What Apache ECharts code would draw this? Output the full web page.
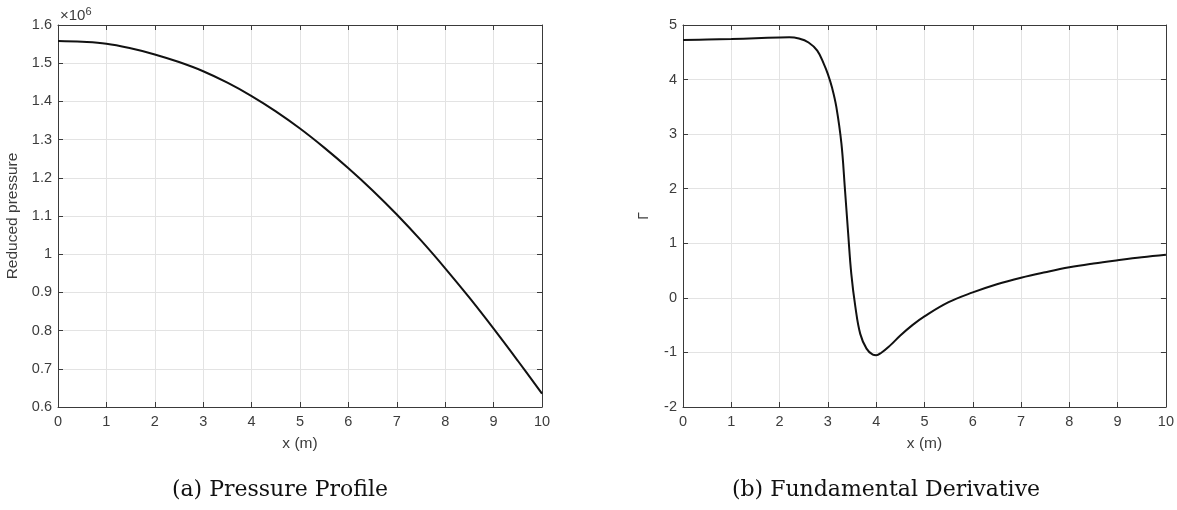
<!DOCTYPE html>
<html>
<head>
<meta charset="utf-8">
<script src="https://cdn.jsdelivr.net/npm/echarts@6/dist/echarts.min.js"></script>
<style>
html,body{margin:0;padding:0;background:#fff;}
#c{width:1177px;height:510px;}
</style>
</head>
<body>
<div id="c"></div>
<script>
// ---- data ----
const pressureX = [0, 0.5, 1, 1.5, 2, 2.5, 3, 3.5, 4, 4.5, 5, 5.5, 6, 6.5, 7, 7.5, 8, 8.5, 9, 9.5, 10];
const pressureY = [1.558, 1.556, 1.551, 1.539, 1.523, 1.503, 1.479, 1.449, 1.414, 1.374, 1.329, 1.279, 1.225, 1.167, 1.104, 1.036, 0.963, 0.886, 0.805, 0.721, 0.635];

const gammaX = [0, 0.5, 1, 1.5, 2, 2.2, 2.4, 2.6, 2.78, 2.92, 3.0, 3.09, 3.175, 3.28, 3.35, 3.42, 3.485, 3.57, 3.67, 3.8, 3.93, 4.0, 4.1, 4.28, 4.5, 4.75, 5.0, 5.5, 6, 6.5, 7, 7.5, 8, 8.5, 9, 9.5, 10];
const gammaY = [4.725, 4.733, 4.743, 4.758, 4.772, 4.775, 4.752, 4.68, 4.53, 4.28, 4.10, 3.84, 3.50, 2.83, 2.03, 1.18, 0.44, -0.17, -0.66, -0.93, -1.04, -1.05, -1.01, -0.88, -0.69, -0.50, -0.34, -0.08, 0.10, 0.25, 0.37, 0.47, 0.56, 0.63, 0.69, 0.745, 0.79];

const xTicks = [0, 1, 2, 3, 4, 5, 6, 7, 8, 9, 10];
const pTickMin = 0.6, pTickMax = 1.6, pTickStep = 0.1;
const gTickMin = -2, gTickMax = 5, gTickStep = 1;

const labels = {
  xName: 'x (m)',
  pName: 'Reduced pressure',
  gName: 'Γ',
  pExp: '×10{sup|6}',
  capA: '(a) Pressure Profile',
  capB: '(b) Fundamental Derivative'
};

// ---- styles ----
const axisCol = '#3a3a3a';
const textCol = '#3c3c3c';
const gridCol = '#e3e3e3';
const tickFont = 14.5;
const sansFam = '"Liberation Sans", Arial, sans-serif';

const pairs = (xs, ys) => xs.map((x, i) => [x, ys[i]]);

function xAxisPair(gridIndex, name) {
  const base = {
    gridIndex, type: 'value', min: 0, max: 10, interval: 1,
    axisLine: {show: true, onZero: false, lineStyle: {color: axisCol, width: 1}},
    axisTick: {show: true, inside: true, length: 5, lineStyle: {color: axisCol}},
    splitLine: {show: false}
  };
  return [
    Object.assign({}, base, {
      position: 'bottom',
      name, nameLocation: 'middle', nameGap: 29,
      nameTextStyle: {color: textCol, fontSize: 15.5, fontFamily: sansFam},
      axisLabel: {color: textCol, fontSize: tickFont, fontFamily: sansFam, margin: 7,
        formatter: v => xTicks.includes(v) ? String(v) : ''},
      splitLine: {show: true, lineStyle: {color: gridCol, width: 1}}
    }),
    Object.assign({}, base, {position: 'top', axisLabel: {show: false}})
  ];
}

function yAxisPair(gridIndex, min, max, step, name, nameGap, nameStyle, fmt) {
  const base = {
    gridIndex, type: 'value', min, max, interval: step,
    axisLine: {show: true, onZero: false, lineStyle: {color: axisCol, width: 1}},
    axisTick: {show: true, inside: true, length: 5, lineStyle: {color: axisCol}},
    splitLine: {show: false}
  };
  return [
    Object.assign({}, base, {
      position: 'left',
      name, nameLocation: 'middle', nameGap,
      nameTextStyle: nameStyle,
      axisLabel: {color: textCol, fontSize: tickFont, fontFamily: sansFam, margin: 6, formatter: fmt},
      splitLine: {show: true, lineStyle: {color: gridCol, width: 1}}
    }),
    Object.assign({}, base, {position: 'right', axisLabel: {show: false}})
  ];
}

const pFmt = v => {
  const r = Math.round(v * 10) / 10;
  return r === 1 ? '1' : r.toFixed(1);
};
const gFmt = v => String(Math.round(v));

const xA = xAxisPair(0, labels.xName);
const xB = xAxisPair(1, labels.xName);
const yA = yAxisPair(0, pTickMin, pTickMax, pTickStep, labels.pName, 37,
  {color: textCol, fontSize: 15.5, fontFamily: sansFam}, pFmt);
const yB = yAxisPair(1, gTickMin, gTickMax, gTickStep, labels.gName, 32,
  {color: textCol, fontSize: 14, fontFamily: sansFam}, gFmt);

const chart = echarts.init(document.getElementById('c'), null, {renderer: 'canvas'});
chart.setOption({
  animation: false,
  backgroundColor: '#fff',
  grid: [
    {left: 58, top: 25, width: 484, height: 382},
    {left: 683, top: 25, width: 484, height: 382}
  ],
  title: [
    {text: labels.capA, left: 275, top: 474, textAlign: 'center',
      textStyle: {fontFamily: '"DejaVu Serif", serif', fontWeight: 'normal', fontSize: 22, color: '#111'}},
    {text: labels.capB, left: 881, top: 474, textAlign: 'center',
      textStyle: {fontFamily: '"DejaVu Serif", serif', fontWeight: 'normal', fontSize: 22, color: '#111'}},
    {text: labels.pExp, left: 55, top: 1,
      textStyle: {fontFamily: sansFam, fontWeight: 'normal', fontSize: 15, color: textCol,
        rich: {sup: {fontSize: 11, verticalAlign: 'top', padding: [0, 0, 9, 0], color: textCol, fontFamily: sansFam}}}}
  ],
  xAxis: [xA[0], xA[1], xB[0], xB[1]],
  yAxis: [yA[0], yA[1], yB[0], yB[1]],
  series: [
    {type: 'line', xAxisIndex: 0, yAxisIndex: 0, data: pairs(pressureX, pressureY),
      showSymbol: false, smooth: 0.4,
      lineStyle: {color: '#111', width: 2}},
    {type: 'line', xAxisIndex: 2, yAxisIndex: 2, data: pairs(gammaX, gammaY),
      showSymbol: false, smooth: 0.4,
      lineStyle: {color: '#111', width: 2}}
  ]
});
</script>
</body>
</html>
